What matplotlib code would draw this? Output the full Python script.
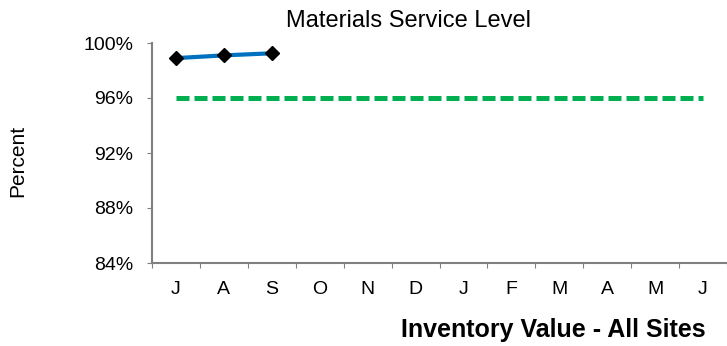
import matplotlib.pyplot as plt

plt.rcParams['font.family'] = ['Liberation Sans', 'DejaVu Sans']

months = ['J', 'A', 'S', 'O', 'N', 'D', 'J', 'F', 'M', 'A', 'M', 'J']
actual = [98.9, 99.1, 99.25]
target = [96] * 12
yticks = [84, 88, 92, 96, 100]

fig = plt.figure(figsize=(7.27, 3.46), dpi=100)
ax = fig.add_axes([152 / 727, 83 / 346, 1 - 152 / 727, 220 / 346])

x = list(range(len(months)))
ax.plot(x, target, color='#00b050', lw=3.6, ls=(0, (2.6, 1.0)))
ax.plot(x[:len(actual)], actual, color='#0070c0', lw=3, marker='D',
        ms=7.5, mfc='black', mec='black')

ax.set_xlim(-0.5, len(months) - 0.5)
ax.set_ylim(84, 100)
ax.set_yticks(yticks)
ax.set_yticklabels([f'{v}%' for v in yticks], fontsize=14)
ax.set_xticks([i - 0.5 for i in range(len(months) + 1)])
ax.set_xticklabels([])
ax.set_xticks(x, minor=True)
ax.set_xticklabels(months, minor=True, fontsize=14)
ax.tick_params(axis='x', which='minor', length=0, pad=13)
ax.tick_params(axis='x', which='major', length=3.6, color='#808080')
ax.tick_params(axis='y', length=3.6, color='#808080', pad=10)

for s in ['top', 'right']:
    ax.spines[s].set_visible(False)
for s in ['left', 'bottom']:
    ax.spines[s].set_color('#808080')
    ax.spines[s].set_linewidth(1.5)

fig.text(408 / 727, 1 - 27 / 346, 'Materials Service Level', ha='center', va='baseline', fontsize=17)
fig.text(18 / 727, 1 - 161 / 346, 'Percent', rotation=90, ha='center', va='center', fontsize=15)
fig.text(553 / 727, 1 - 337 / 346, 'Inventory Value - All Sites', ha='center', va='baseline',
         fontsize=18, fontweight='bold')

fig.savefig('out.png', dpi=100)
